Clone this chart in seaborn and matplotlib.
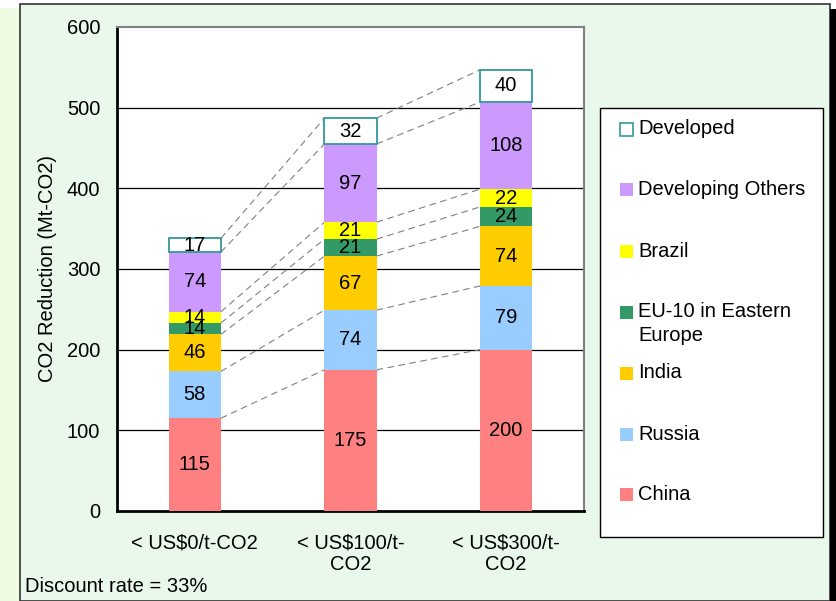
import numpy as np
import pandas as pd
import seaborn as sns
import matplotlib.pyplot as plt
from matplotlib.patches import Rectangle

# Data (Mt-CO2), bottom to top of each stack
categories = ['< US$0/t-CO2', '< US$100/t-\nCO2', '< US$300/t-\nCO2']
regions = ['China', 'Russia', 'India', 'EU-10 in Eastern\nEurope', 'Brazil',
           'Developing Others', 'Developed']
china = [115, 175, 200]
russia = [58, 74, 79]
india = [46, 67, 74]
eu10 = [14, 21, 24]
brazil = [14, 21, 22]
dev_others = [74, 97, 108]
developed = [17, 32, 40]
colors = ['#FF8080', '#99CCFF', '#FFCC00', '#339966', '#FFFF00', '#CC99FF', '#FFFFFF']
teal = '#339999'

sns.set_style('white')
plt.rcParams['font.family'] = ['Liberation Sans', 'DejaVu Sans']
plt.rcParams.update({'text.color': 'black', 'axes.labelcolor': 'black',
                     'xtick.color': 'black', 'ytick.color': 'black'})
FS = 14.5

W, H = 836, 601
fig = plt.figure(figsize=(W / 100, H / 100), dpi=100)
fig.patch.set_facecolor('white')

def fx(px):
    return px / W

def fy(py):
    return 1 - py / H

# slide-like background, kept behind the axes
fig.patches.append(Rectangle((0, 0), fx(20), fy(8), transform=fig.transFigure,
                             facecolor='#EEFBE2', edgecolor='none', zorder=-10))
fig.patches.append(Rectangle((fx(20), 0), fx(810), fy(4), transform=fig.transFigure,
                             facecolor='#E9F8EB', edgecolor='#333333', lw=1.2, zorder=-10))
fig.patches.append(Rectangle((fx(830), 0), fx(6), fy(9), transform=fig.transFigure,
                             facecolor='black', edgecolor='none', zorder=-10))

ax = fig.add_axes([fx(117), fy(511), fx(584 - 117), (511 - 27) / H])
ax.set_facecolor('white')

bar_w = 0.335
series = [china, russia, india, eu10, brazil, dev_others, developed]
bottom = np.zeros(len(categories))
tops = []
for name, vals, col in zip(regions, series, colors):
    df = pd.DataFrame({'cat': categories, 'val': vals})
    is_dev = name == 'Developed'
    sns.barplot(data=df, x='cat', y='val', color=col, saturation=1, width=bar_w,
                bottom=bottom.copy(), errorbar=None, ax=ax,
                edgecolor=teal if is_dev else 'none', linewidth=1.3 if is_dev else 0,
                zorder=3)
    for i, v in enumerate(vals):
        ax.text(i, bottom[i] + v / 2, str(v), ha='center', va='center',
                fontsize=FS, color='black', zorder=5)
    bottom = bottom + np.array(vals)
    tops.append(bottom.copy())

# dashed connectors between stacked segment tops
for lvl in tops:
    for i in range(len(categories) - 1):
        ax.plot([i + bar_w / 2, i + 1 - bar_w / 2], [lvl[i], lvl[i + 1]],
                color='#808080', lw=0.8, ls=(0, (6, 4)), zorder=2)

ax.set_xlim(-0.5, 2.5)
ax.set_ylim(0, 600)
ax.set_yticks(range(0, 601, 100))
for yv in range(100, 600, 100):
    ax.axhline(yv, color='black', lw=0.9, zorder=1)

ax.set_xlabel('')
ax.set_ylabel('CO2 Reduction (Mt-CO2)', fontsize=FS)
ax.yaxis.set_label_coords(-0.128, 0.5)
ax.tick_params(axis='y', length=0, pad=12, labelsize=FS)
ax.tick_params(axis='x', length=0, pad=16, labelsize=FS)
ax.set_xticks([0.5, 1.5], minor=True)
ax.tick_params(axis='x', which='minor', direction='in', length=5, width=1, color='black')

for side in ['left', 'bottom']:
    ax.spines[side].set_color('black')
    ax.spines[side].set_linewidth(2)
for side in ['top', 'right']:
    ax.spines[side].set_color('#808080')
    ax.spines[side].set_linewidth(1.5)

# legend drawn as a boxed panel, top entry = top of stack
fig.patches.append(Rectangle((fx(600), fy(537)), fx(223), (537 - 108) / H,
                             transform=fig.transFigure, facecolor='white',
                             edgecolor='black', lw=1, zorder=1))
leg_y = [494, 434, 373, 323.5, 251, 190, 129]
for name, col, py in zip(regions, colors, leg_y):
    sq_y = py if '\n' not in name else 312
    fig.patches.append(Rectangle((fx(620), fy(sq_y + 6.5)), fx(13), 13 / H,
                                 transform=fig.transFigure, facecolor=col,
                                 edgecolor=teal if col == '#FFFFFF' else 'none',
                                 lw=1.2, zorder=2))
    fig.text(fx(638), fy(py), name, ha='left', va='center', fontsize=FS,
             linespacing=1.3, zorder=3)

fig.text(fx(25), fy(586), 'Discount rate = 33%', ha='left', va='center', fontsize=FS)

fig.savefig('out.png', dpi=100, facecolor=fig.get_facecolor())
